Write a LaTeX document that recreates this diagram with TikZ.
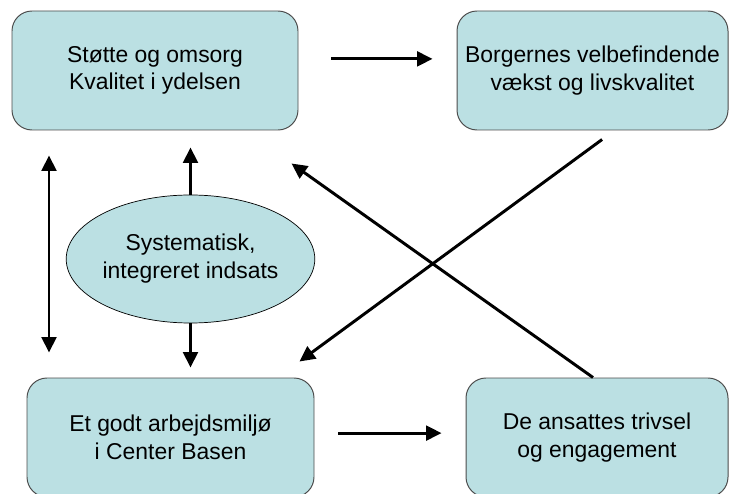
\documentclass[tikz,border=0pt]{standalone}
\usepackage{fontspec}
\setmainfont{Liberation Sans}
\usepackage{tikz}
\usetikzlibrary{arrows.meta, positioning, shapes.geometric, calc}
\usepackage{xcolor}
\definecolor{boxfill}{RGB}{187,224,227}

\begin{document}
\begin{tikzpicture}[>={Triangle[length=11pt, width=10.5pt]},
    box/.style={rectangle, rounded corners=0.5cm, minimum height=2.975cm, draw=black!70, line width=0.7pt, fill=boxfill, align=center, inner sep=0pt, font=\fontsize{16.3}{19.5}\selectfont},
    oval/.style={ellipse, minimum width=5.825cm, minimum height=3.2cm, draw=black, line width=0.5pt, fill=boxfill, align=center, inner sep=0pt, font=\fontsize{16.3}{20}\selectfont},
    link/.style={->, line width=2.1pt, black},
    twoway/.style={<->, line width=2.1pt, black}]
        \useasboundingbox (0,0) rectangle (18.25,12.325);
        \node (stoette) [box, minimum width=7.15cm] at (3.875,10.5625) {Støtte og omsorg\\Kvalitet i ydelsen};
        \node (borger) [box, minimum width=6.775cm] at (14.8125,10.5625) {Borgernes velbefindende\\vækst og livskvalitet};
        \node (arbejd) [box, minimum width=7.175cm] at (4.2625,1.3875) {Et godt arbejdsmiljø\\i Center Basen};
        \node (trivsel) [box, minimum width=6.55cm] at (14.925,1.3875) {De ansattes trivsel\\og engagement};
        \node (indsats) [oval] at (4.7625,5.85) {Systematisk,\\integreret indsats};
        \coordinate (venstre) at ([xshift=-2.65cm]stoette.south);
        \draw[link, shorten <=0.825cm, shorten >=0.6cm] ([yshift=0.29cm]stoette.east) -- ([yshift=0.29cm]borger.west);
        \draw[link, shorten <=0.6cm, shorten >=0.6cm] ([yshift=0.11cm]arbejd.east) -- ([yshift=0.11cm]trivsel.west);
        \draw[twoway, shorten <=0.625cm, shorten >=0.625cm] (venstre) -- (venstre |- arbejd.north);
        \draw[link, shorten >=0.425cm] (indsats.north) -- (indsats.north |- stoette.south);
        \draw[link, shorten >=0.25cm] (indsats.south) -- (indsats.south |- arbejd.north);
        \draw[link] ([xshift=0.24cm, yshift=-0.225cm]borger.south) -- ([xshift=-0.375cm, yshift=0.4cm]arbejd.north east);
        \draw[link] ([xshift=-0.1cm]trivsel.north) -- ([xshift=-0.175cm, yshift=-0.825cm]stoette.south east);
    \end{tikzpicture}
\end{document}
